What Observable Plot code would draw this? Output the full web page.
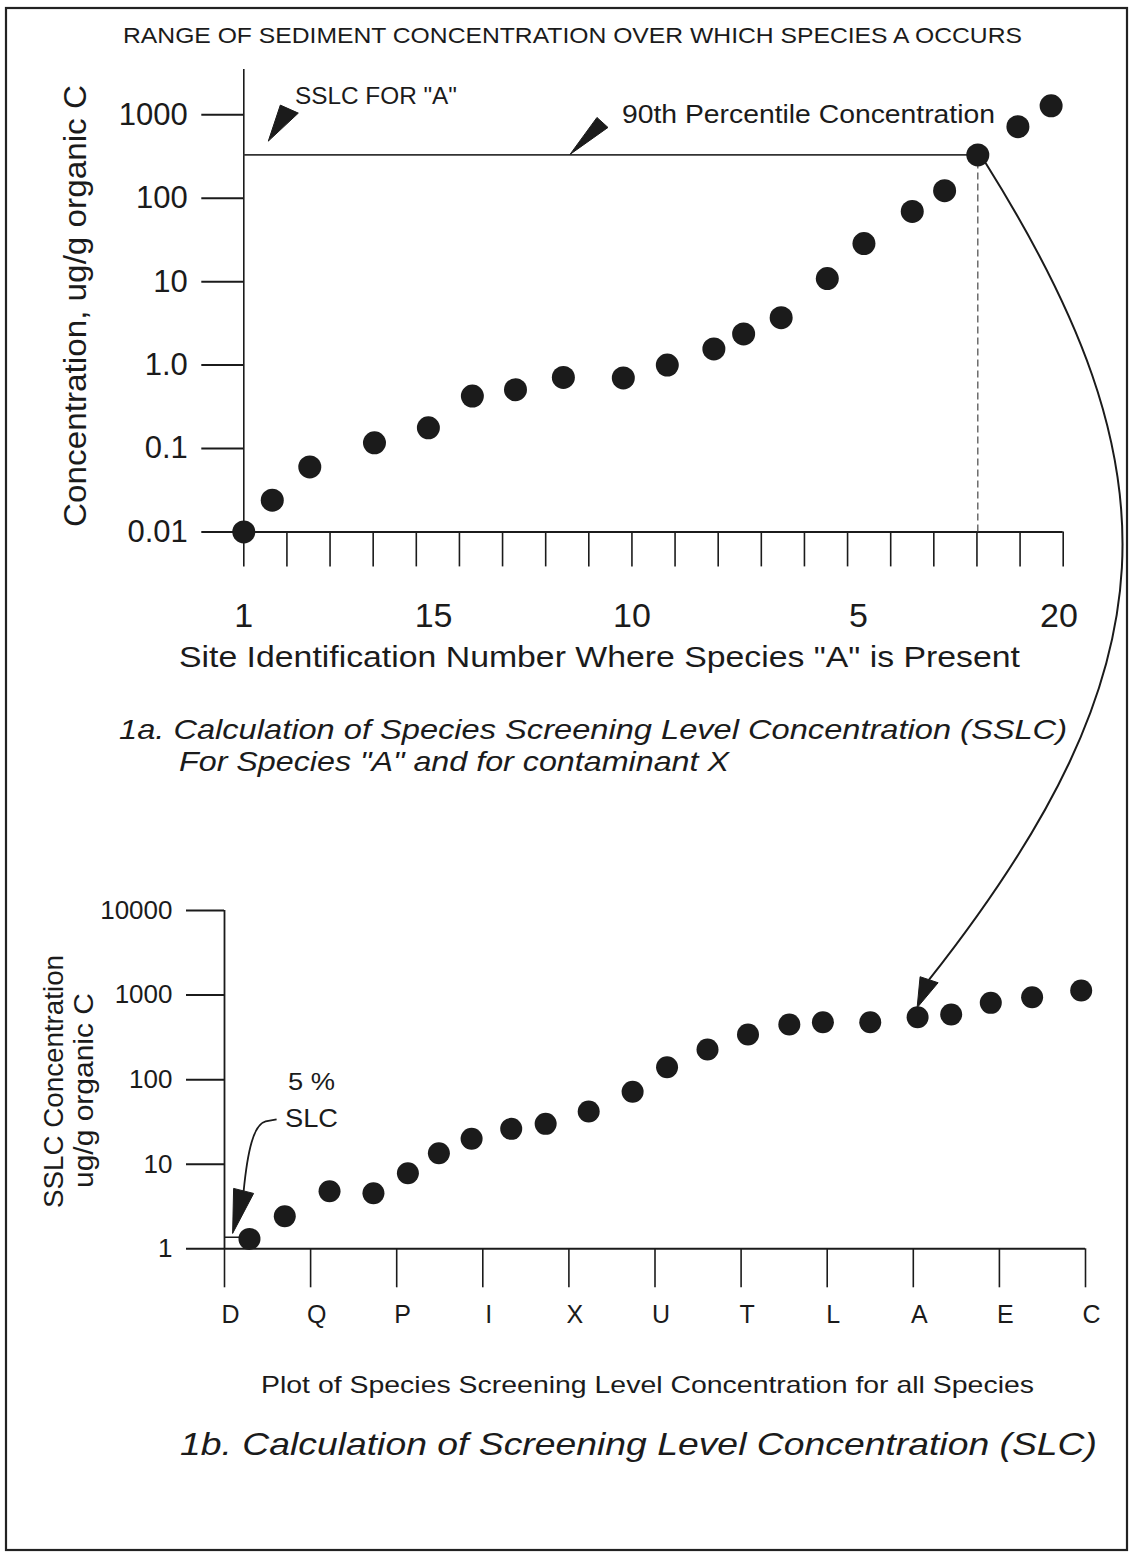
<!DOCTYPE html>
<html>
<head>
<meta charset="utf-8">
<script src="https://cdn.jsdelivr.net/npm/d3@7"></script>
<script src="https://cdn.jsdelivr.net/npm/@observablehq/plot@0.6"></script>
<style>
  html, body { margin: 0; padding: 0; background: #fff; }
  #page { position: relative; width: 1132px; height: 1556px; overflow: hidden; background: #fff;
          font-family: "Liberation Sans", Arial, Helvetica, sans-serif; }
  #page > svg { position: absolute; left: 0; }
</style>
</head>
<body>
<div id="page"></div>
<script>
// ---------- DATA ----------
// Panel 1a: sites ordered by concentration (position along the axis, in tick units)
const topSiteRank = [1.00, 1.66, 2.53, 4.03, 5.28, 6.30, 7.30, 8.41, 9.80, 10.82,
                     11.90, 12.59, 13.46, 14.53, 15.38, 16.50, 17.25, 18.02, 18.95, 19.72];
const topConc = [0.01, 0.024, 0.06, 0.117, 0.177, 0.425, 0.507, 0.71, 0.70, 1.0,
                 1.56, 2.36, 3.7, 10.9, 28.6, 69.5, 123, 330, 720, 1280];
const topYTicks = [0.01, 0.1, 1, 10, 100, 1000];
const topYTickLabels = ["0.01", "0.1", "1.0", "10", "100", "1000"];
const topXTicks = d3.range(1, 21);
const topXLabelPos = [1, 5.4, 10, 15.25, 19.9];
const topXLabels = ["1", "15", "10", "5", "20"];
const p90Index = 17;            // 90th percentile site
const topAxisTopValue = 3500;   // y axis line extends above 1000

// Panel 1b: species SSLCs
const speciesTicks = d3.range(0, 11);
const speciesLabels = ["D", "Q", "P", "I", "X", "U", "T", "L", "A", "E", "C"];
const bottomPos = [0.29, 0.70, 1.22, 1.73, 2.13, 2.49, 2.87, 3.33, 3.73, 4.23, 4.74,
                   5.14, 5.61, 6.08, 6.56, 6.95, 7.50, 8.05, 8.44, 8.90, 9.38, 9.95];
const bottomSSLC = [1.31, 2.43, 4.8, 4.54, 7.83, 13.5, 20, 26.2, 30, 42, 72,
                    140, 227, 341, 448, 477, 477, 547, 588, 809, 942, 1130];
const bottomYTicks = [1, 10, 100, 1000, 10000];
const bottomYTickLabels = ["1", "10", "100", "1000", "10000"];
const slc5 = 1.37;              // 5% SLC level
const speciesAIndex = 17;       // species "A" point

// annotation anchors (data units)
const sslcArrowTip = {x: 1.58, y: 477};
const p90ArrowTipX = 8.575;
const slcArrowTip = {x: 0.10, y: 1.5};

// ---------- BUILD ----------
const ink = "#1b1b1b";
const font = '"Liberation Sans", Arial, Helvetica, sans-serif';
const page = document.getElementById("page");

const topData = topSiteRank.map((x, i) => ({x, y: topConc[i]}));
const bottomData = bottomPos.map((x, i) => ({x, y: bottomSSLC[i]}));
const topYMap = new Map(topYTicks.map((d, i) => [d, topYTickLabels[i]]));
const topXMap = new Map(topXLabelPos.map((d, i) => [d, topXLabels[i]]));
const botYMap = new Map(bottomYTicks.map((d, i) => [d, bottomYTickLabels[i]]));
const letterMap = new Map(speciesTicks.map((d, i) => [d, speciesLabels[i]]));
const p90 = topConc[p90Index];

const topPlot = Plot.plot({
  width: 1132, height: 700,
  marginLeft: 243.3, marginRight: 69.3, marginTop: 114.3, marginBottom: 168.6,
  x: {type: "linear", domain: [1, 20]},
  y: {type: "log", domain: [0.01, 1000]},
  style: {fontFamily: font, color: ink, background: "transparent", overflow: "visible"},
  marks: [
    Plot.axisY({ticks: topYTicks, tickSize: 42, tickPadding: 14, tickFormat: d => topYMap.get(d),
                fontSize: 31, strokeWidth: 2, label: null}),
    Plot.axisX({ticks: topXTicks, tickSize: 35, tickFormat: () => "", strokeWidth: 1.6, label: null}),
    Plot.axisX({ticks: topXLabelPos, tickSize: 0, tickPadding: 71, tickFormat: d => topXMap.get(d),
                fontSize: 34, label: null}),
    Plot.ruleX([1], {y1: 0.01, y2: topAxisTopValue, stroke: ink, strokeWidth: 1.6}),
    Plot.ruleY([0.01], {x1: 1, x2: 20, stroke: ink, strokeWidth: 2}),
    Plot.ruleY([p90], {x1: 1, x2: topSiteRank[p90Index], stroke: "#333", strokeWidth: 1.8}),
    Plot.ruleX([topSiteRank[p90Index]], {y1: 0.01, y2: p90, stroke: "#555", strokeWidth: 1.3, strokeDasharray: "7,4"}),
    Plot.dot(topData, {x: "x", y: "y", r: 11.5, fill: ink, stroke: null})
  ]
});
topPlot.style.top = "0px";
page.appendChild(topPlot);

const BOT_TOP = 850;
const bottomPlot = Plot.plot({
  width: 1132, height: 500,
  marginLeft: 224, marginRight: 47, marginTop: 60, marginBottom: 101.7,
  x: {type: "linear", domain: [0, 10]},
  y: {type: "log", domain: [1, 10000]},
  style: {fontFamily: font, color: ink, background: "transparent", overflow: "visible"},
  marks: [
    Plot.axisY({ticks: bottomYTicks, tickSize: 38, tickPadding: 14, tickFormat: d => botYMap.get(d),
                fontSize: 26, strokeWidth: 2, label: null}),
    Plot.axisX({ticks: speciesTicks, tickSize: 39, tickFormat: () => "", strokeWidth: 1.6, label: null}),
    Plot.axisX({ticks: speciesTicks, tickSize: 0, tickPadding: 56, dx: 6, tickFormat: d => letterMap.get(d),
                fontSize: 25, label: null}),
    Plot.ruleX([0], {y1: 1, y2: 10000, stroke: ink, strokeWidth: 1.8}),
    Plot.ruleY([1], {x1: 0, x2: 10, stroke: ink, strokeWidth: 2}),
    Plot.ruleY([slc5], {x1: 0, x2: 0.19, stroke: ink, strokeWidth: 1.5}),
    Plot.dot(bottomData, {x: "x", y: "y", r: 11, fill: ink, stroke: null})
  ]
});
bottomPlot.style.top = BOT_TOP + "px";
page.appendChild(bottomPlot);

// ---------- OVERLAY: frame, titles, arrows ----------
const tx = topPlot.scale("x"), ty = topPlot.scale("y");
const bx = bottomPlot.scale("x"), by = bottomPlot.scale("y");
const topPx = (x, y) => [tx.apply(x), ty.apply(y)];
const botPx = (x, y) => [bx.apply(x), by.apply(y) + BOT_TOP];

const svg = d3.create("svg").attr("width", 1132).attr("height", 1556)
  .style("position", "absolute").style("top", "0px").style("left", "0px")
  .style("pointer-events", "none").style("font-family", font);

svg.append("rect").attr("x", 6).attr("y", 8).attr("width", 1121).attr("height", 1542)
  .attr("fill", "none").attr("stroke", "#222").attr("stroke-width", 2.2);

function txt(str, x, y, o) {
  const t = svg.append("text").attr("fill", ink).attr("font-size", o.size)
    .attr("font-style", o.italic ? "italic" : "normal")
    .attr("text-anchor", o.rotate ? "middle" : "start")
    .attr("textLength", o.width).attr("lengthAdjust", "spacingAndGlyphs")
    .text(str);
  if (o.rotate) t.attr("transform", `translate(${x},${y}) rotate(-90)`);
  else t.attr("x", x).attr("y", y);
}

txt("RANGE OF SEDIMENT CONCENTRATION OVER WHICH SPECIES A OCCURS", 123, 43, {size: 22, width: 899});
txt('SSLC FOR "A"', 295, 104, {size: 23, width: 162});
txt("90th Percentile Concentration", 622, 123, {size: 25, width: 373});
txt("Concentration, ug/g organic C", 86, 306, {size: 32, width: 442, rotate: true});
txt('Site Identification Number Where Species "A" is Present', 179, 667, {size: 29, width: 841});
txt("1a. Calculation of Species Screening Level Concentration (SSLC)", 119, 739, {size: 28, width: 948, italic: true});
txt('For Species "A" and for contaminant X', 179, 771, {size: 28, width: 550, italic: true});
txt("SSLC Concentration", 63, 1081.5, {size: 27, width: 253, rotate: true});
txt("ug/g organic C", 93, 1090.5, {size: 27, width: 195, rotate: true});
txt("5 %", 288, 1090, {size: 24, width: 47});
txt("SLC", 285, 1127, {size: 26, width: 53});
txt("Plot of Species Screening Level Concentration for all Species", 261, 1393, {size: 24, width: 773});
txt("1b. Calculation of Screening Level Concentration (SLC)", 180, 1455, {size: 32, width: 917, italic: true});

function dart(tip, o1, o2) {
  svg.append("path")
    .attr("d", `M${tip[0]},${tip[1]} L${tip[0] + o1[0]},${tip[1] + o1[1]} L${tip[0] + o2[0]},${tip[1] + o2[1]} Z`)
    .attr("fill", ink).attr("stroke", ink).attr("stroke-width", 1).attr("stroke-linejoin", "round");
}

// SSLC arrow
dart(topPx(sslcArrowTip.x, sslcArrowTip.y), [12, -36], [30, -28]);
// 90th percentile arrow
dart(topPx(p90ArrowTipX, p90), [27, -37], [38, -27]);

// curved arrow from 90th percentile point to species A in panel 1b
{
  const s = topPx(topSiteRank[p90Index], p90);
  const e = botPx(bottomPos[speciesAIndex], bottomSSLC[speciesAIndex]);
  const P0 = [s[0] + 8, s[1] + 8];
  const tip = [e[0], e[1] - 9];
  const P3 = [tip[0] + 12, tip[1] - 28];
  const u0 = [47 / 88.5, 75 / 88.5], u3 = [45 / 72.6, -57 / 72.6];
  const a = 360, b = 400;
  const P1 = [P0[0] + a * u0[0], P0[1] + a * u0[1]];
  const P2 = [P3[0] + b * u3[0], P3[1] + b * u3[1]];
  svg.append("path")
    .attr("d", `M${P0} C${P1} ${P2} ${P3}`)
    .attr("fill", "none").attr("stroke", ink).attr("stroke-width", 2);
  dart(tip, [3, -31], [21, -25]);
}

// 5% SLC leader arrow
{
  const t = botPx(slcArrowTip.x, slcArrowTip.y);
  const p = (dx, dy) => [t[0] + dx, t[1] + dy];
  svg.append("path")
    .attr("d", `M${p(11, -42)} C${p(15, -83)} ${p(21, -109)} ${p(33, -112)} L${p(44, -114)}`)
    .attr("fill", "none").attr("stroke", ink).attr("stroke-width", 1.8);
  dart(t, [1, -45], [21, -40]);
}

page.appendChild(svg.node());
</script>
</body>
</html>
